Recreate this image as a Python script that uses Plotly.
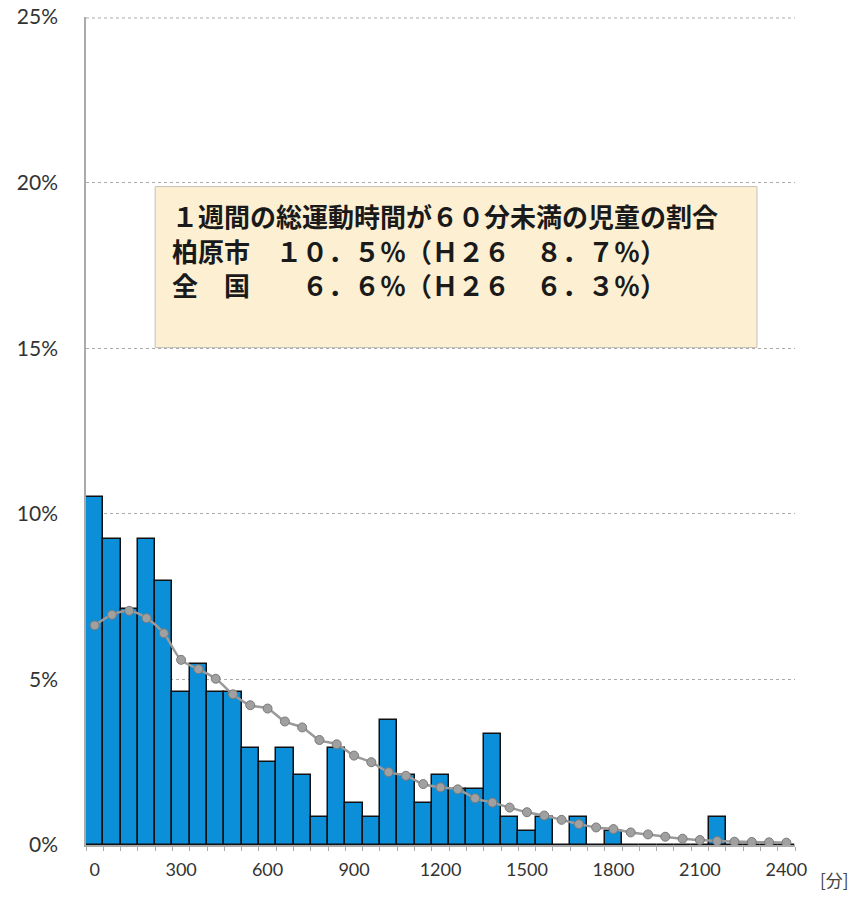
import plotly.graph_objects as go

minutes = list(range(0, 2401, 60))
kashiwara_pct = [10.5, 9.24, 7.14, 9.24, 7.98, 4.62, 5.46, 4.62, 4.62, 2.94,
                 2.52, 2.94, 2.10, 0.84, 2.94, 1.26, 0.84, 3.78, 2.10, 1.26,
                 2.10, 1.68, 1.68, 3.36, 0.84, 0.42, 0.84, 0.0, 0.84, 0.0,
                 0.42, 0.0, 0.0, 0.0, 0.0, 0.0, 0.84, 0.0, 0.0, 0.0, 0.0]
national_pct = [6.63, 6.95, 7.07, 6.85, 6.39, 5.59, 5.31, 5.02, 4.55, 4.22,
                4.12, 3.73, 3.55, 3.17, 3.04, 2.70, 2.50, 2.20, 2.09, 1.84,
                1.74, 1.68, 1.41, 1.28, 1.13, 0.99, 0.89, 0.76, 0.63, 0.53,
                0.48, 0.38, 0.32, 0.25, 0.19, 0.15, 0.12, 0.10, 0.09, 0.08, 0.07]
x_ticks = list(range(0, 2401, 300))
y_ticks = [0, 5, 10, 15, 20, 25]
y_labels = ["0%", "5%", "10%", "15%", "20%", "25%"]
box_lines = ["１週間の総運動時間が６０分未満の児童の割合",
             "柏原市　１０．５％（Ｈ２６　８．７％）",
             "全　国　　６．６％（Ｈ２６　６．３％）"]

fig = go.Figure()
fig.add_trace(go.Bar(
    x=minutes, y=kashiwara_pct, width=60,
    marker=dict(color="#0b8fd9", line=dict(color="#111111", width=1.5)),
    name="柏原市"))
fig.add_trace(go.Scatter(
    x=minutes, y=national_pct, mode="lines+markers",
    line=dict(color="#9a9a9a", width=2.5, shape="spline"),
    marker=dict(color="#a0a0a0", size=9, line=dict(color="#7a7a7a", width=1)),
    name="全国"))

fig.add_shape(type="rect", xref="x", yref="y", x0=210, x1=2298, y0=15.02, y1=19.88,
              fillcolor="#fcefd2", line=dict(color="#c8c0b8", width=1), layer="below")
fig.add_shape(type="line", xref="paper", yref="y", x0=0, x1=1, y0=24.97, y1=24.97,
              line=dict(color="#aaaaaa", width=1, dash="dot"), layer="below")
for txt, yy in zip(box_lines, [19.02, 17.96, 16.93]):
    fig.add_annotation(x=262, y=yy, xref="x", yref="y", text="<b>%s</b>" % txt,
                       showarrow=False, xanchor="left", yanchor="middle",
                       font=dict(family="Noto Sans CJK JP", size=26, color="#1a1a1a"))
fig.add_annotation(x=1.056, y=-0.042, xref="paper", yref="paper", text="[分]",
                   showarrow=False, xanchor="center", yanchor="middle",
                   font=dict(family="Noto Sans CJK JP", size=17, color="#444444"))

fig.update_layout(
    width=854, height=897,
    margin=dict(l=86, r=59, t=17, b=52, autoexpand=False),
    plot_bgcolor="white", paper_bgcolor="white",
    showlegend=False, bargap=0,
    xaxis=dict(range=[-30, 2430], tickvals=x_ticks, ticktext=[str(v) for v in x_ticks],
               showgrid=False, zeroline=False, showline=True, linecolor="#aaaaaa",
               linewidth=1.5, ticks="", ticklabelstandoff=8, automargin=False,
               minor=dict(tick0=-30, dtick=60, ticks="outside", ticklen=4,
                          tickcolor="#aaaaaa", showgrid=False),
               tickfont=dict(family="Lato", size=18, color="#333333")),
    yaxis=dict(range=[0, 25], tickvals=y_ticks, ticktext=y_labels,
               showgrid=True, gridcolor="#aaaaaa", griddash="dot", gridwidth=1,
               zeroline=False, showline=True, linecolor="#aaaaaa", linewidth=1.5,
               ticks="", ticklabelstandoff=22, automargin=False,
               tickfont=dict(family="Lato", size=21, color="#333333")),
)

fig.write_html("out.html", config={"displayModeBar": False},
               post_script="document.body.style.margin='0';document.body.style.overflow='hidden';")
